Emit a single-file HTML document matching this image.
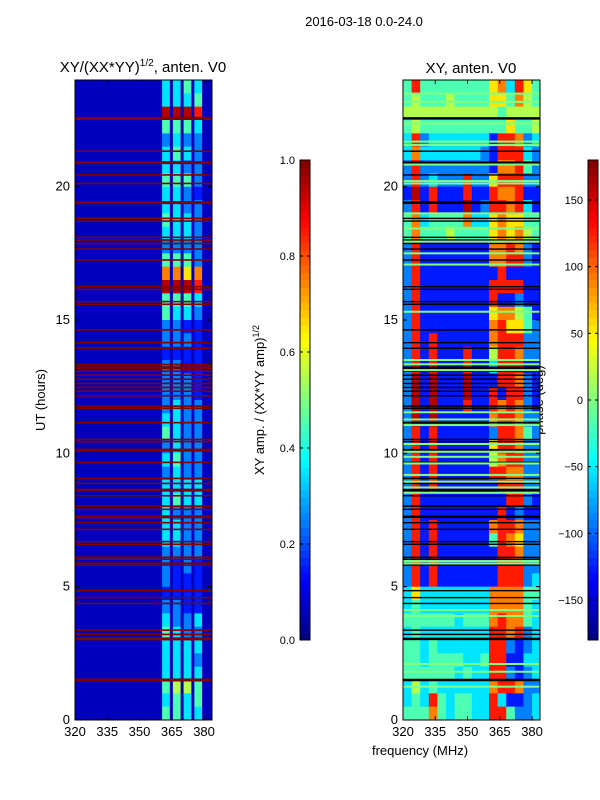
<!DOCTYPE html>
<html><head><meta charset="utf-8">
<style>
body{margin:0;background:#fff;}
svg{display:block;font-family:"Liberation Sans","DejaVu Sans",sans-serif;}
</style></head>
<body>
<svg id="fig" width="600" height="800" viewBox="0 0 600 800" xmlns="http://www.w3.org/2000/svg">
<rect width="600" height="800" fill="#fff"/>
<text x="364" y="26" font-size="13" text-anchor="middle">2016-03-18 0.0-24.0</text>
<text x="143" y="72" font-size="15" text-anchor="middle">XY/(XX*YY)<tspan font-size="10" dy="-6">1/2</tspan><tspan dy="6">, anten. V0</tspan></text>
<text x="471" y="73" font-size="15" text-anchor="middle">XY, anten. V0</text>
<text transform="translate(45,400) rotate(-90)" font-size="13" text-anchor="middle">UT (hours)</text>
<text x="420" y="755" font-size="13" text-anchor="middle">frequency (MHz)</text>
<text transform="translate(264,400) rotate(-90)" font-size="13" text-anchor="middle">XY amp. / (XX*YY amp)<tspan font-size="9" dy="-5">1/2</tspan></text>
<text transform="translate(543,400) rotate(-90)" font-size="13" text-anchor="middle">phase (deg)</text>
<g id="left"></g><g id="right"></g><g id="cb1"></g><g id="cb2"></g>
</svg>
<script>
// ---- data ----
const hourTicks = [0,5,10,15,20];
const freqTicks = [320,335,350,365,380];
const ampTicks = [0.0,0.2,0.4,0.6,0.8,1.0];
const phaseTicks = [-150,-100,-50,0,50,100,150];
const ampBandStarts = [360.5,365.5,370.5,375.5];
const ampRows = ["3343","3334","9998","4443","2322","3432","3322","4442","3321","3322","4332","3332","2222","4442","7767","9998","4443","4332","2211","2221","1111","2211","2221","2221","2322","3322","4322","2322","3422","2322","3333","3433","3222","3322","3322","2222","2121","2111","1111","2211","3223","4322","3333","3332","3333","4554","3434","4433"];
const ampBackground = 0.06;
const flagHours = [22.56,21.33,20.9,20.44,20.12,19.4,18.81,18.71,18.1,18.0,17.87,17.66,17.25,16.25,16.15,15.69,15.59,14.63,14.15,13.94,13.33,13.21,13.08,12.93,12.78,12.62,12.47,12.33,12.16,11.77,11.69,11.15,10.52,10.44,10.12,9.66,9.06,8.87,8.62,8.41,8.02,7.9,7.62,7.4,7.15,6.69,6.59,6.1,6.03,5.88,5.81,4.85,4.59,4.37,3.37,3.21,3.04,1.5];
const thickFlags = [22.56,20.9,19.4,13.21,10.12,8.62,7.62,3.04,1.5];
const phaseRows = ["4844444444673864","4544454444664754","5555555555545555","4544444444446445","3823333333188723","3733333332188832","2822222222177842","2823222822688822","1918111811877811","2818111912887831","4734444733676644","4744454444676754","2811111111778721","2811111111778821","2811111111181111","2811111111888811","2811111111811211","2811111111677541","2811111111786642","2818111111788822","2818111811588722","2818111811388811","2919111911188721","2919111911818821","2919111811878721","2919111111788722","2818111111288742","2818111111688722","2818111111578822","2818111111887722","2818111111188822","2811111111118821","2811111111181211","2818111111788722","2818111111487622","2818111111188722","2818111111188822","2818111111188823","3633333333777744","3433333333777743","4444443444787743","3433333333887823","4434333333882123","4434444334881133","4444443433882123","3534333333788722","3438434433831123","4447434433884223"];
const greenHours = [23.49,23.18,22.37,21.69,21.56,20.83,20.21,20.12,19.0,18.43,17.94,17.5,17.08,15.31,13.5,13.34,13.12,11.54,11.27,11.06,10.35,10.06,9.87,9.62,9.19,8.94,8.72,8.52,5.96,5.87,4.12,3.9,2.1,1.81,1.25];

// ---- helpers ----
const NS="http://www.w3.org/2000/svg";
function mk(tag,attrs,parent){const e=document.createElementNS(NS,tag);for(const k in attrs)e.setAttribute(k,attrs[k]);parent.appendChild(e);return e;}
function jet(x){const c=v=>Math.round(255*Math.max(0,Math.min(1,v)));
 return `rgb(${c(1.5-Math.abs(4*x-3))},${c(1.5-Math.abs(4*x-2))},${c(1.5-Math.abs(4*x-1))})`;}
const plotTop=80,plotBot=720,fmin=320,fmax=383.7;
const yH=h=>plotBot-(h/24)*(plotBot-plotTop);
function xF(x0,x1){return f=>x0+(f-fmin)/(fmax-fmin)*(x1-x0);}

function axes(g,x0,x1,name){
 const xf=xF(x0,x1);
 hourTicks.forEach(h=>{const y=yH(h);
  const l1=mk('line',{x1:x0,x2:x0+4,y1:y,y2:y,stroke:'#000'},g);
  
  
  mk('line',{x1:x1-4,x2:x1,y1:y,y2:y,stroke:'#000'},g);
  const t=mk('text',{x:x0-5,y:y+4,'font-size':13,'text-anchor':'end'},g);t.textContent=h;
  
  });
 freqTicks.forEach(f=>{const x=xf(f);
  mk('line',{x1:x,x2:x,y1:plotBot,y2:plotBot-4,stroke:'#000'},g);
  mk('line',{x1:x,x2:x,y1:plotTop,y2:plotTop+4,stroke:'#000'},g);
  const t=mk('text',{x:x,y:plotBot+16,'font-size':13,'text-anchor':'middle'},g);t.textContent=f;
  
  });
 const r=mk('rect',{x:x0,y:plotTop,width:x1-x0,height:plotBot-plotTop,fill:'none',stroke:'#000'},g);
 
 
}

(function(){
 const g=document.getElementById('left');const x0=75,x1=212,xf=xF(x0,x1);
 const bg=mk('rect',{x:x0,y:plotTop,width:x1-x0,height:plotBot-plotTop,fill:jet(ampBackground)},g);
 
 
 const rh=(plotBot-plotTop)/ampRows.length;
 ampRows.forEach((row,i)=>{const hTop=24-i*24/ampRows.length;
  ampBandStarts.forEach((fs,j)=>{const v=(+row[j]+0.5)/10;
   const c=mk('rect',{x:xf(fs),y:yH(hTop),width:xf(fs+3.6)-xf(fs),height:rh+0.5,fill:jet(v)},g);
   
   });});
 flagHours.forEach(h=>{const w=thickFlags.includes(h)?3:1.6;
  const l=mk('rect',{x:x0,y:yH(h)-w/2,width:x1-x0,height:w,fill:'#800000'},g);
  
  });
 axes(g,x0,x1,'amp-plot');
})();

(function(){
 const g=document.getElementById('right');const x0=403,x1=540,xf=xF(x0,x1);
 const rh=(plotBot-plotTop)/phaseRows.length;
 phaseRows.forEach((row,i)=>{const hTop=24-i*24/phaseRows.length;
  for(let j=0;j<row.length;j++){const f=fmin+4*j;const fe=Math.min(f+4,fmax);
   const c=mk('rect',{x:xf(f),y:yH(hTop),width:xf(fe)-xf(f)+0.5,height:rh+0.5,fill:jet((+row[j]+0.5)/10)},g);
   
   }});
 flagHours.forEach(h=>{const w=thickFlags.includes(h)?2.5:1.4;
  const l=mk('rect',{x:x0,y:yH(h)-w/2,width:x1-x0,height:w,fill:'#000'},g);
  
  });
 greenHours.forEach(h=>{
  const l=mk('rect',{x:x0,y:yH(h)-1,width:x1-x0,height:2,fill:jet(0.5)},g);
  
  });
 axes(g,x0,x1,'phase-plot');
})();

function colorbar(id,x,lo,hi,ticks,name){
 const g=document.getElementById(id);const y0=160,y1=640,n=64;
 for(let i=0;i<n;i++){const s=mk('rect',{x:x,y:y1-(i+1)*(y1-y0)/n,width:10,height:(y1-y0)/n+0.5,fill:jet((i+0.5)/n)},g);
  
  }
 const fr=mk('rect',{x:x,y:y0,width:10,height:y1-y0,fill:'none',stroke:'#000'},g);
 
 
 ticks.forEach(v=>{const y=y1-(v-lo)/(hi-lo)*(y1-y0);
  mk('line',{x1:x,x2:x+3,y1:y,y2:y,stroke:'#000'},g);
  mk('line',{x1:x+7,x2:x+10,y1:y,y2:y,stroke:'#000'},g);
  const t=mk('text',{x:x-5,y:y+4,'font-size':11,'text-anchor':'end'},g);
  t.textContent=(lo===0?v.toFixed(1):v).toString().replace('-','\u2212');
  
  });
}
colorbar('cb1',300,0,1,ampTicks,'amp-colorbar');
colorbar('cb2',588,-180,180,phaseTicks,'phase-colorbar');
</script>
</body></html>
